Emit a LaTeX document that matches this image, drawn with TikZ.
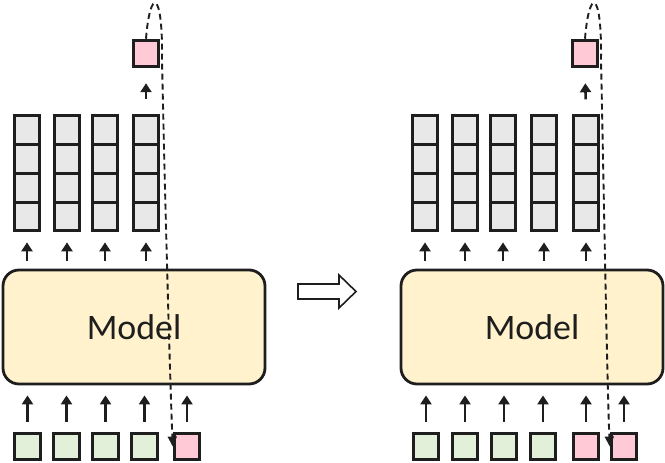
\documentclass[tikz,border=0pt]{standalone}
\usepackage{fontspec}
\newfontfamily\modelfont{Carlito}
\usepackage{tikz}
\usetikzlibrary{arrows.meta}
\definecolor{ink}{HTML}{1E1E1E}
\definecolor{cellgray}{HTML}{E8E8E8}
\definecolor{tokgreen}{HTML}{E2F0D9}
\definecolor{tokpink}{HTML}{FFC9D5}
\definecolor{modelyellow}{HTML}{FFF2CC}

\begin{document}
\begin{tikzpicture}[
      x=1bp, y=-1bp,
      cell/.style={
        rectangle,
        draw=ink,
        line width=3bp,
        fill=cellgray,
        inner sep=0pt,
        minimum width=25.5bp,
        minimum height=28.75bp,
      },
      token/.style={
        rectangle,
        draw=ink,
        line width=3bp,
        inner sep=0pt,
        minimum width=25.5bp,
        minimum height=26.5bp,
      },
      model/.style={
        rectangle,
        draw=ink,
        line width=2.8bp,
        rounded corners=16bp,
        fill=modelyellow,
        minimum width=262bp,
        minimum height=114bp,
        font=\modelfont\fontsize{36}{40}\selectfont,
        text=ink,
      },
      up/.style={
        draw=ink,
        line width=2.6bp,
        -{Triangle[width=11bp,length=9bp]},
      },
      loop/.style={
        draw=ink,
        line width=1.9bp,
        dash pattern=on 6bp off 4bp,
        -{Triangle[width=9bp,length=10bp]},
      }
    ]
      \useasboundingbox (0,0) rectangle (665,463);

      % left: one step
      \node[model] (L-model) at (134,327) {Model};
      \foreach \x [count=\i] in {27,67,105,146} {
        \foreach \r in {1,...,4}
          \node[cell] (L-c\i-\r) at (\x,{101.5+28.75*\r}) {};
        \draw[up, shorten <=8bp, shorten >=10bp] (L-c\i-4.south |- L-model.north) -- (L-c\i-4.south);
      }
      \node[token, fill=tokpink] (L-out) at (146,53.5) {};
      \draw[up, shorten <=15bp, shorten >=15bp] (L-c4-1.north) -- (L-out.south);

      \foreach \x [count=\i] in {27.5,66.5,105.5,144.5}
        \node[token, fill=tokgreen] (L-t\i) at (\x,446.5) {};
      \node[token, fill=tokpink] (L-new) at (187,446.5) {};
      \foreach \n in {L-t1,L-t2,L-t3,L-t4,L-new}
        \draw[up, shorten <=10bp, shorten >=10bp] (\n.north) -- (\n.north |- L-model.south);

      % feed the output back as next input
      \draw[loop] (L-out.north) .. controls (150,-12) and (163,-12) .. (162,60)
        .. controls (165,200) and (170,380) .. (L-new.west);

      % hollow arrow between the two steps
      \draw[draw=ink, line width=1.6bp, fill=white]
        (298,284) -- (339,284) -- (339,275) -- (356,291.5) -- (339,308) -- (339,299) -- (298,299) -- cycle;

      % right: next step
      \node[model] (R-model) at (532,327) {Model};
      \foreach \x [count=\i] in {425,465,503,544,586} {
        \foreach \r in {1,...,4}
          \node[cell] (R-c\i-\r) at (\x,{101.5+28.75*\r}) {};
        \draw[up, shorten <=8bp, shorten >=10bp] (R-c\i-4.south |- R-model.north) -- (R-c\i-4.south);
      }
      \node[token, fill=tokpink] (R-out) at (585,53.5) {};
      \draw[up, shorten <=15bp, shorten >=15bp] (R-c5-1.north) -- (R-out.south);

      \foreach \x [count=\i] in {426,465,504,543}
        \node[token, fill=tokgreen] (R-t\i) at (\x,446.5) {};
      \node[token, fill=tokpink] (R-old) at (586,446.5) {};
      \node[token, fill=tokpink] (R-new) at (624,446.5) {};
      \foreach \n in {R-t1,R-t2,R-t3,R-t4,R-old,R-new}
        \draw[up, shorten <=10bp, shorten >=10bp] (\n.north) -- (\n.north |- R-model.south);

      \draw[loop] (R-out.north) .. controls (589,-12) and (602,-12) .. (601,60)
        .. controls (604,200) and (607,380) .. (R-new.west);
    \end{tikzpicture}
\end{document}
